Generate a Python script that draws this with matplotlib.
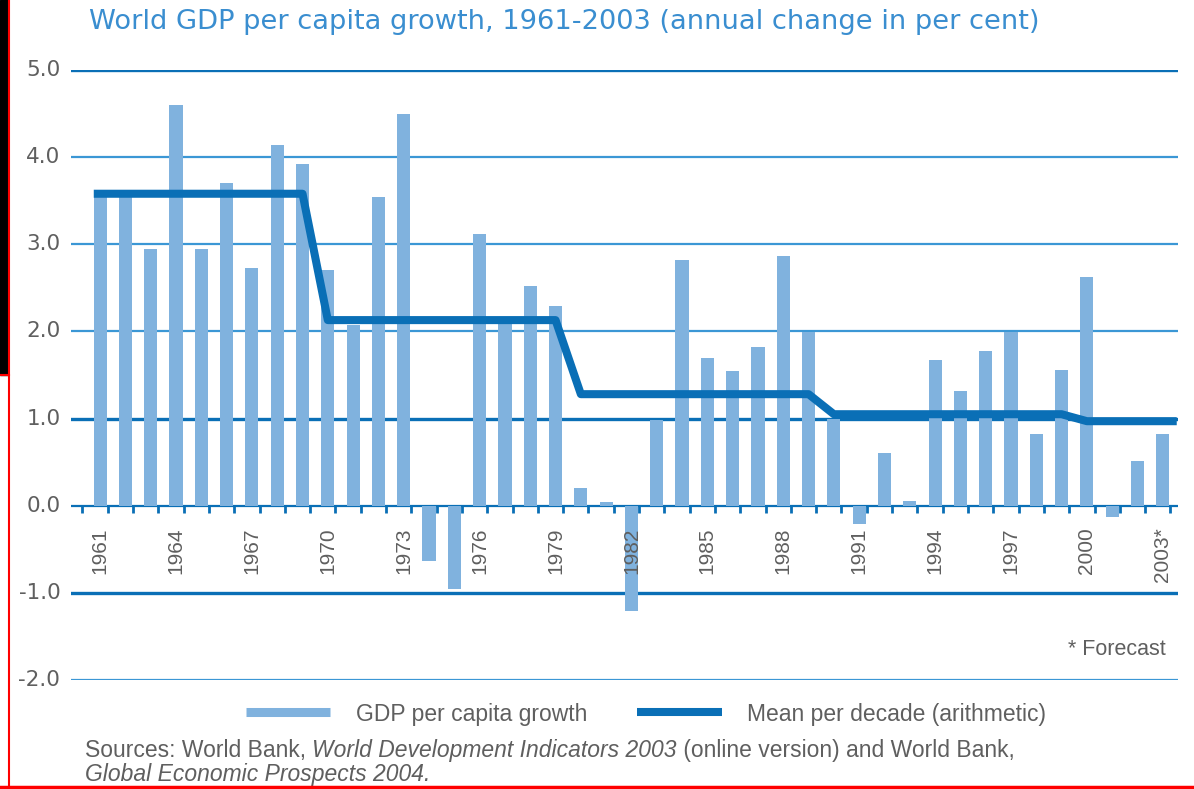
import matplotlib
matplotlib.use("Agg")
import matplotlib.pyplot as plt
from matplotlib.lines import Line2D
from matplotlib.patches import Rectangle

# ------------------ data ------------------ #
years = list(range(1961, 2004))
growth = [3.58, 3.55, 2.95, 4.60, 2.95, 3.70, 2.73, 4.14, 3.92, 2.70,
          2.07, 3.54, 4.50, -0.63, -0.96, 3.12, 2.10, 2.52, 2.29, 0.20,
          0.04, -1.21, 0.98, 2.82, 1.69, 1.55, 1.82, 2.87, 1.99, 1.00,
          -0.21, 0.60, 0.05, 1.67, 1.32, 1.78, 1.99, 0.82, 1.56, 2.63,
          -0.13, 0.51, 0.82]
decade_first = [1961, 1970, 1980, 1990, 2000]
decade_last = [1969, 1979, 1989, 1999, 2003]
decade_mean = [3.58, 2.13, 1.28, 1.05, 0.97]
label_years = list(range(1961, 2004, 3))
label_text = [str(y) for y in label_years[:-1]] + ["2003*"]
yticks = [5.0, 4.0, 3.0, 2.0, 1.0, 0.0, -1.0, -2.0]

# ------------------ colours / fonts ------------------ #
BAR = "#80b2de"
DARK = "#0a6fb6"
GRID_LIGHT = "#3b97d5"
GREY = "#5f5f5f"
TITLE = "#3a8ed0"
WIDE = ["DejaVu Sans"]
SANS = ["Liberation Sans", "DejaVu Sans"]

fig = plt.figure(figsize=(11.94, 7.89), dpi=100)
ax = fig.add_axes([71 / 1194, 1 - 680 / 789, (1178 - 71) / 1194, (680 - 70) / 789])
ax.set_xlim(1959.85, 2003.6)
ax.set_ylim(-2.0, 5.0)
ax.axis("off")

# gridlines: some heavy, some light
for v in yticks:
    if v in (5.0, 1.0, -1.0):
        ax.axhline(v, color=DARK, lw=2.4, zorder=1)
    elif v == 0.0:
        ax.axhline(v, color=DARK, lw=1.6, zorder=1)
    else:
        ax.axhline(v, color=GRID_LIGHT, lw=1.6, zorder=1)
    ax.text(1959.85 - 0.42, v, f"{v:.1f}", ha="right", va="center",
            fontsize=15.5, color=GREY, family=WIDE)

# bars
ax.bar(years, growth, width=0.52, color=BAR, zorder=2)

# little ticks under the zero line
tick_x = [y + 0.3 for y in range(1960, 2004)]
ax.vlines(tick_x, -0.08, 0, color=DARK, lw=2.0, zorder=3)

# mean per decade, stepped with sloped joins
mx, my = [], []
for first, last, m in zip(decade_first, decade_last, decade_mean):
    mx += [first, last]
    my += [m, m]
mx[0] -= 0.25
mx[-1] += 0.55
ax.plot(mx, my, color=DARK, lw=5.8, zorder=4, solid_capstyle="butt")

# year labels
for yr, lab in zip(label_years, label_text):
    ax.text(yr, -0.25, lab, rotation=90, ha="center", va="top",
            fontsize=15, color=GREY, family=SANS)

ax.text(2003.1, -1.65, "* Forecast", ha="right", va="center",
        fontsize=15.5, color=GREY, family=SANS)

# title
fig.text(89 / 1194, 1 - 22 / 789, "World GDP per capita growth, 1961-2003 (annual change in per cent)",
         ha="left", va="center", fontsize=19.6, color=TITLE, family=WIDE)

# legend
handles = [Line2D([], [], color=BAR, lw=6.5, solid_capstyle="butt"),
           Line2D([], [], color=DARK, lw=5.8, solid_capstyle="butt")]
fig.legend(handles, ["GDP per capita growth", "Mean per decade (arithmetic)"],
           loc="center", bbox_to_anchor=(646 / 1194, 1 - 714 / 789), ncol=2,
           frameon=False, handlelength=3.7, handletextpad=1.1, columnspacing=2.2,
           prop={"family": SANS, "size": 16.5}, labelcolor=GREY)

# source note
fs = 16.5
src = fig.text(85 / 1194, 1 - 751 / 789, "Sources: World Bank, ", ha="left", va="center",
               fontsize=fs, color=GREY, family=SANS)
fig.canvas.draw()
r = fig.canvas.get_renderer()
x0 = src.get_window_extent(r).x1
t2 = fig.text(x0 / 1194, 1 - 751 / 789, "World Development Indicators 2003", ha="left",
              va="center", fontsize=fs, color=GREY, family=SANS, style="italic")
x1 = t2.get_window_extent(r).x1
fig.text(x1 / 1194, 1 - 751 / 789, " (online version) and World Bank,", ha="left",
         va="center", fontsize=fs, color=GREY, family=SANS)
fig.text(85 / 1194, 1 - 775 / 789, "Global Economic Prospects 2004.", ha="left",
         va="center", fontsize=fs, color=GREY, family=SANS, style="italic")

# screenshot frame at the edges
fig.patches.append(Rectangle((0, 1 - 375 / 789), 8 / 1194, 375 / 789,
                             transform=fig.transFigure, color="black", zorder=5))
fig.lines.append(Line2D([8.5 / 1194] * 2, [0, 1], transform=fig.transFigure,
                        color="red", lw=1.5, zorder=6))
fig.lines.append(Line2D([0, 8.5 / 1194], [1 - 375 / 789] * 2, transform=fig.transFigure,
                        color="red", lw=1.5, zorder=6))
fig.lines.append(Line2D([0, 1], [1 - 787 / 789] * 2, transform=fig.transFigure,
                        color="red", lw=2.5, zorder=6))

fig.savefig("out.png", dpi=100)
